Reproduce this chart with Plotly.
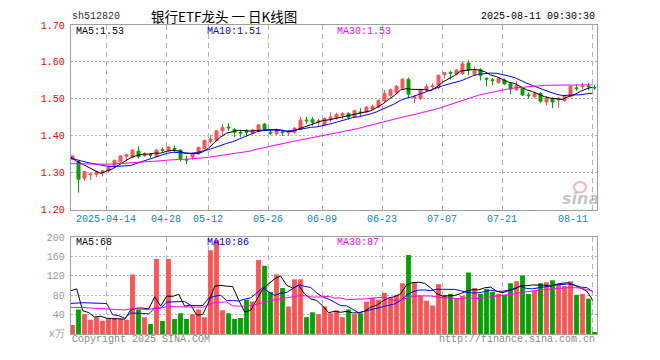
import pandas as pd
import plotly.graph_objects as go

# ---------------- data ----------------
symbol = "sh512820"
title_text = "银行ETF龙头 一 日K线图"
timestamp = "2025-08-11 09:30:30"

holidays = ["2025-04-04", "2025-05-01", "2025-05-02", "2025-05-05", "2025-06-02"]
dates = [d.strftime("%Y-%m-%d") for d in pd.bdate_range("2025-04-03", "2025-08-11")
         if d.strftime("%Y-%m-%d") not in holidays]

opens = [1.337, 1.331, 1.286, 1.295, 1.296, 1.300, 1.306, 1.316, 1.330, 1.345,
         1.343, 1.359, 1.347, 1.350, 1.345, 1.363, 1.361, 1.366, 1.362, 1.337,
         1.343, 1.352, 1.366, 1.385, 1.388, 1.414, 1.424, 1.418, 1.410, 1.412,
         1.407, 1.416, 1.432, 1.410, 1.406, 1.411, 1.408, 1.410, 1.417, 1.443,
         1.444, 1.438, 1.431, 1.444, 1.450, 1.456, 1.461, 1.451, 1.465, 1.464,
         1.473, 1.478, 1.496, 1.510, 1.517, 1.529, 1.553, 1.503, 1.501, 1.524,
         1.533, 1.531, 1.566, 1.572, 1.567, 1.569, 1.597, 1.567, 1.579, 1.556,
         1.552, 1.544, 1.551, 1.541, 1.525, 1.529, 1.511, 1.506, 1.515, 1.492,
         1.501, 1.497, 1.496, 1.506, 1.530, 1.533, 1.535, 1.531]
highs = [1.347, 1.333, 1.305, 1.302, 1.306, 1.308, 1.320, 1.336, 1.348, 1.352,
         1.363, 1.372, 1.356, 1.354, 1.365, 1.369, 1.372, 1.374, 1.363, 1.346,
         1.354, 1.371, 1.390, 1.403, 1.415, 1.432, 1.435, 1.421, 1.416, 1.418,
         1.420, 1.431, 1.435, 1.418, 1.420, 1.417, 1.414, 1.424, 1.452, 1.452,
         1.451, 1.447, 1.450, 1.464, 1.463, 1.464, 1.464, 1.471, 1.475, 1.480,
         1.485, 1.499, 1.525, 1.528, 1.538, 1.557, 1.558, 1.511, 1.527, 1.541,
         1.543, 1.566, 1.572, 1.576, 1.581, 1.602, 1.604, 1.588, 1.583, 1.558,
         1.557, 1.558, 1.555, 1.544, 1.548, 1.532, 1.518, 1.520, 1.518, 1.508,
         1.504, 1.506, 1.511, 1.536, 1.539, 1.544, 1.543, 1.537]
lows = [1.335, 1.247, 1.279, 1.281, 1.289, 1.291, 1.303, 1.314, 1.327, 1.331,
        1.342, 1.339, 1.343, 1.341, 1.343, 1.355, 1.358, 1.357, 1.331, 1.324,
        1.336, 1.349, 1.363, 1.379, 1.386, 1.401, 1.414, 1.397, 1.397, 1.399,
        1.404, 1.414, 1.415, 1.402, 1.402, 1.400, 1.400, 1.405, 1.416, 1.433,
        1.428, 1.426, 1.426, 1.438, 1.444, 1.445, 1.444, 1.449, 1.454, 1.463,
        1.470, 1.475, 1.491, 1.505, 1.513, 1.525, 1.503, 1.489, 1.497, 1.520,
        1.524, 1.527, 1.555, 1.553, 1.564, 1.565, 1.564, 1.564, 1.550, 1.534,
        1.537, 1.541, 1.537, 1.513, 1.522, 1.508, 1.501, 1.501, 1.490, 1.483,
        1.475, 1.476, 1.492, 1.504, 1.522, 1.527, 1.524, 1.525]
closes = [1.346, 1.283, 1.304, 1.297, 1.303, 1.306, 1.316, 1.334, 1.346, 1.349,
          1.362, 1.344, 1.352, 1.348, 1.362, 1.361, 1.370, 1.364, 1.339, 1.335,
          1.353, 1.369, 1.388, 1.392, 1.414, 1.423, 1.422, 1.410, 1.408, 1.410,
          1.416, 1.430, 1.418, 1.408, 1.416, 1.409, 1.410, 1.421, 1.443, 1.441,
          1.437, 1.441, 1.447, 1.451, 1.458, 1.461, 1.451, 1.468, 1.463, 1.478,
          1.480, 1.496, 1.515, 1.525, 1.534, 1.553, 1.513, 1.505, 1.524, 1.534,
          1.535, 1.564, 1.571, 1.570, 1.578, 1.595, 1.578, 1.578, 1.564, 1.554,
          1.550, 1.555, 1.541, 1.527, 1.536, 1.511, 1.509, 1.515, 1.494, 1.501,
          1.492, 1.500, 1.508, 1.534, 1.528, 1.535, 1.533, 1.530]
volumes = [18.7, 50.7, 40.7, 29.3, 34.7, 27.3, 31.3, 33.3, 30.7, 29.3,
           122.7, 50.0, 34.7, 20.7, 154.7, 26.7, 154.7, 30.7, 42.7, 30.7,
           40.7, 50.7, 34.7, 172.7, 194.0, 48.7, 42.7, 30.7, 32.7, 70.7,
           66.7, 152.7, 140.7, 86.7, 122.7, 94.7, 56.7, 112.7, 112.7, 34.7,
           44.7, 40.7, 56.7, 42.7, 48.7, 34.7, 50.7, 40.7, 42.7, 66.7,
           74.7, 70.7, 84.7, 74.7, 80.7, 104.7, 162.7, 106.7, 78.7, 68.7,
           58.7, 102.7, 80.7, 82.7, 72.7, 78.7, 126.7, 94.7, 82.7, 92.7,
           86.7, 82.7, 80.7, 104.7, 108.7, 120.7, 82.7, 88.7, 104.7, 106.7,
           110.7, 102.7, 98.7, 108.7, 80.7, 82.7, 72.7, 3.0]

# estimated sessions before the visible window (only feed the moving averages)
hist_close = [1.300, 1.305, 1.310, 1.308, 1.312, 1.318, 1.315, 1.320, 1.322, 1.318,
              1.316, 1.320, 1.325, 1.322, 1.320, 1.318, 1.322, 1.326, 1.328, 1.325,
              1.335, 1.338, 1.336, 1.339, 1.337, 1.340, 1.345, 1.342, 1.342]
hist_volume = [45, 60, 52, 48, 70, 55, 42, 50, 47, 58, 62, 44, 40, 55, 48, 50, 46, 52, 48, 48,
               37, 40, 33, 38, 37, 31, 265, 49, 81]

tick_dates = ["2025-04-14", "2025-04-28", "2025-05-12", "2025-05-26", "2025-06-09",
              "2025-06-23", "2025-07-07", "2025-07-21", "2025-08-11"]
tick_labels = ["2025-04-14", "04-28", "05-12", "05-26", "06-09", "06-23", "07-07", "07-21", "08-11"]
price_ticks = [1.20, 1.30, 1.40, 1.50, 1.60, 1.70]
volume_ticks = [0, 40, 80, 120, 160, 200]
volume_tick_labels = ["x万", "40", "80", "120", "160", "200"]
price_ma_labels = ["MA5:1.53", "MA10:1.51", "MA30:1.53"]
volume_ma_labels = ["MA5:68", "MA10:86", "MA30:87"]
ma_windows = [5, 10, 30]

# ---------------- styling ----------------
W, H = 660, 360
RED = "#ff5252"
GREEN = "#00a400"
MA_COLORS = ["#000000", "#0000ff", "#ff00ff"]
GRID = "#b4b4b4"
FRAME = "#a0a0a0"
MONO = "Liberation Mono, DejaVu Sans Mono, monospace"

n = len(dates)
idx = list(range(n))
shift = 0.3  # Sina draws lines/grid at the left edge of each bar slot


def ma(series_hist, series, w):
    s = pd.Series(series_hist + series)
    return s.rolling(w).mean().iloc[len(series_hist):].tolist()


def px_x(p):
    return p / W


def px_y(p):
    return 1 - p / H


x_left, x_right = 70.7, 597.0
top_y0, top_y1 = 20.7, 212.0
vol_y0, vol_y1 = 240.0, 340.3

fig = go.Figure()

fig.add_trace(go.Candlestick(
    x=idx, open=opens, high=highs, low=lows, close=closes,
    increasing=dict(line=dict(color=RED, width=1), fillcolor=RED),
    decreasing=dict(line=dict(color=GREEN, width=1), fillcolor=GREEN),
    whiskerwidth=0, showlegend=False, xaxis="x", yaxis="y", hoverinfo="skip"))

for w, c in zip(ma_windows, MA_COLORS):
    fig.add_trace(go.Scatter(x=[i - shift for i in idx], y=ma(hist_close, closes, w),
                             mode="lines", line=dict(color=c, width=1),
                             showlegend=False, xaxis="x", yaxis="y", hoverinfo="skip"))

bar_colors = [RED if c >= o else GREEN for o, c in zip(opens, closes)]
fig.add_trace(go.Bar(x=idx, y=volumes, marker=dict(color=bar_colors, line=dict(width=0)),
                     width=0.8, showlegend=False, xaxis="x2", yaxis="y2", hoverinfo="skip"))

for w, c in zip(ma_windows, MA_COLORS):
    fig.add_trace(go.Scatter(x=[i - shift for i in idx], y=ma(hist_volume, volumes, w),
                             mode="lines", line=dict(color=c, width=1),
                             showlegend=False, xaxis="x2", yaxis="y2", hoverinfo="skip"))

grid_x = [dates.index(d) - shift for d in tick_dates]
xr = [-shift, (x_right - x_left) / 6.0 - shift]

common_x = dict(range=xr, tickvals=grid_x, showticklabels=False, ticks="",
                showgrid=True, gridcolor=GRID, griddash="5px,4px", gridwidth=1,
                showline=True, linecolor=FRAME, linewidth=1, mirror=True,
                zeroline=False, fixedrange=True)

fig.update_layout(
    width=W, height=H, autosize=False,
    margin=dict(l=0, r=0, t=0, b=0),
    paper_bgcolor="white", plot_bgcolor="white",
    boxgap=0.3, bargap=0.2,
    xaxis=dict(domain=[px_x(x_left), px_x(x_right)], anchor="y",
               rangeslider=dict(visible=False), **common_x),
    xaxis2=dict(domain=[px_x(x_left), px_x(x_right)], anchor="y2", **common_x),
    yaxis=dict(domain=[px_y(top_y1), px_y(top_y0)], anchor="x",
               range=[1.20, 1.70], tickvals=price_ticks,
               ticktext=["%.2f" % v for v in price_ticks],
               tickfont=dict(family=MONO, size=10, color="#ff0000"),
               ticks="", ticklabelstandoff=3,
               showgrid=True, gridcolor=GRID, griddash="2px,2px",
               showline=True, linecolor=FRAME, linewidth=1, mirror=True,
               zeroline=False, fixedrange=True),
    yaxis2=dict(domain=[px_y(vol_y1), px_y(vol_y0)], anchor="x2",
                range=[0, 200], tickvals=volume_ticks, ticktext=volume_tick_labels,
                tickfont=dict(family=MONO, size=10, color="#9a9a9a"),
                ticks="", ticklabelstandoff=3,
                showgrid=True, gridcolor=GRID, griddash="2px,2px",
                showline=True, linecolor=FRAME, linewidth=1, mirror=True,
                zeroline=False, fixedrange=True),
)

ann = []
# header
ann.append(dict(text=symbol, x=px_x(70), y=px_y(12), xref="paper", yref="paper",
                xanchor="left", yanchor="middle", showarrow=False,
                font=dict(family=MONO, size=10, color="#333333")))
ann.append(dict(text=title_text, x=px_x(224), y=px_y(11.5), xref="paper", yref="paper",
                xanchor="center", yanchor="middle", showarrow=False,
                font=dict(family="Noto Sans CJK SC", size=13.5, color="#000000")))
ann.append(dict(text=timestamp, x=px_x(597), y=px_y(12), xref="paper", yref="paper",
                xanchor="right", yanchor="middle", showarrow=False,
                font=dict(family=MONO, size=10, color="#000000")))
# MA labels
for lbl, c, xp in zip(price_ma_labels, MA_COLORS, [74, 205, 335]):
    ann.append(dict(text=lbl, x=px_x(xp), y=px_y(27.5), xref="paper", yref="paper",
                    xanchor="left", yanchor="middle", showarrow=False,
                    font=dict(family=MONO, size=10, color=c)))
for lbl, c, xp in zip(volume_ma_labels, MA_COLORS, [74, 205, 335]):
    ann.append(dict(text=lbl, x=px_x(xp), y=px_y(246), xref="paper", yref="paper",
                    xanchor="left", yanchor="middle", showarrow=False,
                    font=dict(family=MONO, size=10, color=c)))
# date labels
for d, lbl in zip(tick_dates, tick_labels):
    last = d == tick_dates[-1]
    ann.append(dict(text=lbl, x=dates.index(d) - shift, y=px_y(221.5), xref="x", yref="paper",
                    xanchor="right" if last else "center", yanchor="middle",
                    xshift=-3 if last else -1, showarrow=False,
                    font=dict(family=MONO, size=10, color="#0a84d2")))
# footer
ann.append(dict(text="Copyright 2025 SINA.COM", x=px_x(70), y=px_y(346), xref="paper", yref="paper",
                xanchor="left", yanchor="middle", showarrow=False,
                font=dict(family=MONO, size=10, color="#8a8a8a")))
ann.append(dict(text="http://finance.sina.com.cn", x=px_x(597), y=px_y(346), xref="paper", yref="paper",
                xanchor="right", yanchor="middle", showarrow=False,
                font=dict(family=MONO, size=10, color="#8a8a8a")))
# watermark
ann.append(dict(text="<b><i>sina</i></b>", x=px_x(580), y=px_y(200), xref="paper", yref="paper",
                xanchor="center", yanchor="middle", showarrow=False,
                font=dict(family="DejaVu Sans", size=16, color="rgba(160,160,160,0.6)")))
fig.update_layout(annotations=ann)

fig.add_shape(type="circle", xref="paper", yref="paper",
              x0=px_x(574), x1=px_x(586), y0=px_y(194), y1=px_y(183),
              line=dict(color="rgba(240,90,90,0.45)", width=2))

# remove the browser's default 8px page margin so the 660x360 figure fills the window
fig.write_html("out.html", config={"displayModeBar": False},
               post_script="document.body.style.margin='0px';")
